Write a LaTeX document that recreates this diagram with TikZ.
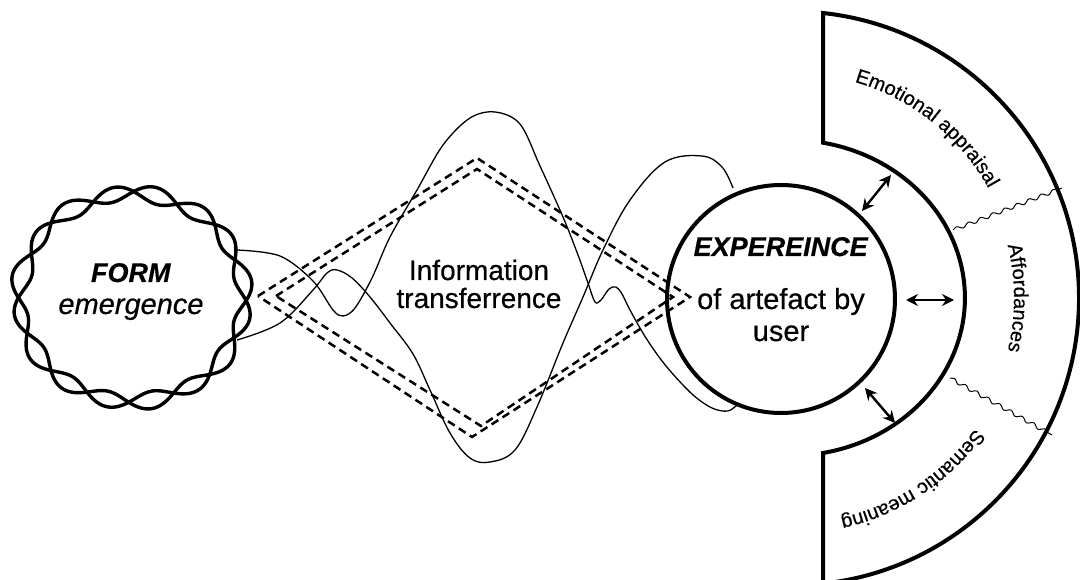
\documentclass[tikz,border=0pt]{standalone}
\usepackage{fontspec}
\setmainfont{Liberation Sans}[FakeBold=0.5]
\usetikzlibrary{decorations.pathmorphing,decorations.text,arrows.meta,calc}
\begin{document}
\begin{tikzpicture}[x=1pt,y=-1pt,
  thickline/.style={line width=4pt},
  blobline/.style={line width=3.4pt},
  thinwave/.style={line width=1.3pt},
  dashline/.style={line width=2.5pt, dash pattern=on 8pt off 5pt},
  divider/.style={line width=1pt, decorate, decoration={snake, amplitude=1.8pt, segment length=13pt}},
  dblarrow/.style={line width=2.4pt, {Stealth[length=12pt,width=12pt,inset=4pt]}-{Stealth[length=12pt,width=12pt,inset=4pt]}},
  lbl/.style={inner sep=0pt, anchor=base},
  boldfont/.style={font=\fontsize{27}{30}\selectfont},
  bigfont/.style={font=\fontsize{29}{31}\selectfont},
  midfont/.style={font=\fontsize{28}{28}\selectfont}
]
\useasboundingbox (0,0) rectangle (1080,580);

% FORM emergence blob
\draw[blobline] plot[domain=0:360,samples=361,smooth] ({131+(113+8*sin(8*\x))*cos(\x)},{297+(104+8*sin(8*\x))*sin(\x)}) -- cycle;
\draw[blobline] plot[domain=0:360,samples=361,smooth] ({133+(112+8*sin(8*\x+160))*cos(\x)},{298+(104+8*sin(8*\x+160))*sin(\x)}) -- cycle;
\node[lbl,boldfont] (form1) at (131,282) {\textbf{\textit{FORM}}};
\node[lbl,bigfont] (form2) at (131,314) {\textit{emergence}};

% dashed diamonds
\draw[dashline] (258,296) -- (477,158) -- (690,297) -- (472,437) -- cycle;
\draw[dashline] (276,296) -- (477,169) -- (673,297) -- (481,426) -- cycle;

% thin waves
\coordinate (a0) at (237,250);
\coordinate (b0) at (237,340);
\draw[thinwave] plot[smooth,tension=0.55] coordinates {(a0) (280,256) (313,281) (333,310) (343,316) (355,308) (372,278) (390,237) (417,190) (443,145) (470,118) (495,112) (520,124) (540,166) (563,217) (578,255) (588,283) (595,302) (601,300) (609,289) (616,287) (622,294) (630,310) (646,338) (666,366) (692,394) (712,408) (728,411) (738,404)};
\draw[thinwave] plot[smooth,tension=0.6] coordinates {(b0) (280,323) (313,290) (327,273) (337,270) (352,278) (370,297) (390,323) (413,354) (430,390) (450,433) (470,458) (490,462) (515,450) (537,407) (563,343) (583,297) (603,250) (630,200) (665,162) (702,156) (722,167) (733,188)};

% Information transferrence
\node[lbl,midfont] (info1) at (479,280) {Information};
\node[lbl,midfont] (info2) at (479,308) {transferrence};

% experience circle
\node[circle, draw, line width=4pt, minimum size=228pt, inner sep=0pt] (exp) at (781,299) {};
\node[lbl,boldfont] (exp1) at (781,256) {\textbf{\textit{EXPEREINCE}}};
\node[lbl,bigfont] (exp2) at (781,309) {of artefact by};
\node[lbl,bigfont] (exp3) at (781,341) {user};

% annulus
\draw[thickline, line join=miter] (823,13) arc[start angle=-83.8, end angle=83.8, radius=287] -- (823,453) arc[start angle=79.1, end angle=-79.1, x radius=175, y radius=158] -- cycle;

% wavy dividers
\coordinate (d1a) at (953,230);
\coordinate (d1b) at (1062,188);
\coordinate (d2a) at (950,378);
\coordinate (d2b) at (1052,435);
\draw[divider] (d1a) -- (d1b);
\draw[divider] (d2a) -- (d2b);

% arrows
\coordinate (u1) at (862,211); \coordinate (u2) at (891,175);
\coordinate (m1) at (906,300); \coordinate (m2) at (954,300);
\coordinate (l1) at (865,388); \coordinate (l2) at (895,423);
\draw[dblarrow] (u1) -- (u2);
\draw[dblarrow] (m1) -- (m2);
\draw[dblarrow] (l1) -- (l2);

% curved labels
\path[decorate, decoration={text along path, text align=center, text={|\fontsize{20}{20}\selectfont|Emotional appraisal}}] ($(792,298)+(-80:225)$) arc[start angle=-80, end angle=-23, radius=225];
\path[decorate, decoration={text along path, text align=center, text={|\fontsize{20}{20}\selectfont|Affordances}}] ($(792,298)+(-16:222)$) arc[start angle=-16, end angle=16, radius=222];
\path[decorate, decoration={text along path, text align=center, text={|\fontsize{20}{20}\selectfont|Semantic meaning}}] ($(792,298)+(32:225)$) arc[start angle=32, end angle=81, radius=225];
\end{tikzpicture}
\end{document}
